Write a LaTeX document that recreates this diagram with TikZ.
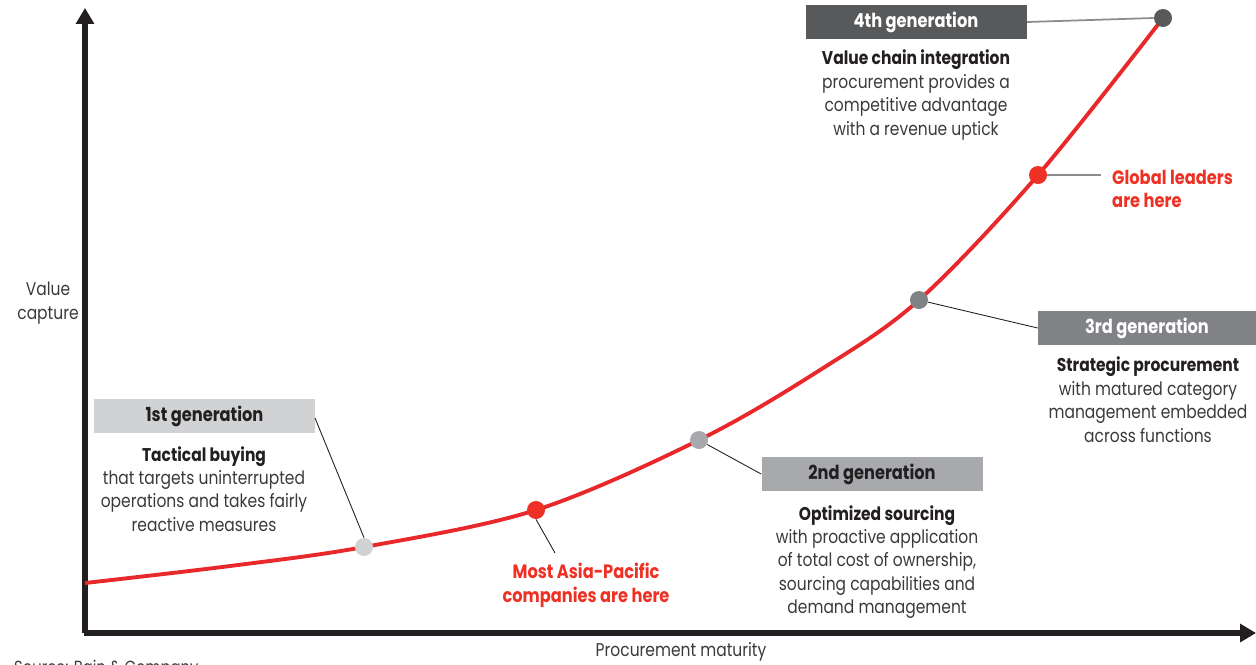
\documentclass[tikz,border=0pt]{standalone}
\usepackage{fontspec}
\setmainfont{Poppins}[FakeStretch=0.84]
\usetikzlibrary{arrows.meta}
\begin{document}
\definecolor{curvered}{HTML}{E8282B}
\definecolor{dotred}{HTML}{EE3124}
\definecolor{gen1}{HTML}{D1D2D4}
\definecolor{gen2}{HTML}{A7A9AC}
\definecolor{gen3}{HTML}{808285}
\definecolor{gen4}{HTML}{58595B}
\definecolor{ink}{HTML}{231F20}
\definecolor{body}{HTML}{3A3A3C}
\begin{tikzpicture}[x=0.02cm,y=-0.02cm,
  axis/.style={line width=3pt,draw=ink,-{Triangle[length=9pt,width=10pt]}},
  header/.style={minimum width=221*0.02cm,minimum height=34*0.02cm,inner sep=0pt,font=\fontsize{11}{13}\selectfont\bfseries},
  desc/.style={align=center,font=\fontsize{10.5}{13.3}\selectfont,text=body,anchor=north},
  dot/.style={circle,minimum size=18*0.02cm,inner sep=0pt},
  leader/.style={line width=0.5pt,draw=ink},
  greyleader/.style={line width=1pt,draw=gray!90},
  redtext/.style={font=\fontsize{11}{13.3}\selectfont\bfseries,text=dotred}]
\useasboundingbox (0,0) rectangle (1256,664);

% axes
\coordinate (origin) at (85,633);
\coordinate (ocorner) at (84,633);
\coordinate (ytop) at (85,8);
\coordinate (xend) at (1256,633);
\draw[axis] (origin) -- (ytop);
\draw[axis] (ocorner) -- (xend);
\node[font=\fontsize{10.5}{13.3}\selectfont,align=center,text=body] (ylab) at (48,303) {Value\\capture};
\node[font=\fontsize{10.5}{13.3}\selectfont,text=body] (xlab) at (681,652) {Procurement maturity};
\node[font=\fontsize{10}{12}\selectfont,text=body,anchor=north west] (src) at (8,654) {Source: Bain \& Company};

% maturity curve
\draw[curvered,line width=2.2pt] plot[smooth,tension=0.55] coordinates
  {(85,583) (230,566) (364,547) (536,510) (699,440) (820,370) (919,300) (1038,175) (1163,18)};

% markers on the curve
\node[dot,fill=gen1] (m1) at (364,547) {};
\node[dot,fill=dotred] (mA) at (536,510) {};
\node[dot,fill=gen2] (m2) at (699,440) {};
\node[dot,fill=gen3] (m3) at (919,300) {};
\node[dot,fill=dotred] (mG) at (1038,175) {};
\node[dot,fill=gen4] (m4) at (1163,18) {};

% generation headers
\node[header,fill=gen1,text=ink] (h1) at (204.5,416) {\raisebox{-1.5pt}{1st generation}};
\node[header,fill=gen2,text=ink] (h2) at (872,474) {\raisebox{-1.5pt}{2nd generation}};
\node[header,fill=gen3,text=white,minimum width=218*0.02cm] (h3) at (1147,328) {\raisebox{-1.5pt}{3rd generation}};
\node[header,fill=gen4,text=white] (h4) at (916,22) {\raisebox{-1.5pt}{4th generation}};

% descriptions
\node[desc] (d1) at (204,440) {{\color{ink}\bfseries Tactical buying}\\that targets uninterrupted\\operations and takes fairly\\reactive measures};
\node[desc] (d2) at (877,499) {{\color{ink}\bfseries Optimized sourcing}\\with proactive application\\of total cost of ownership,\\sourcing capabilities and\\demand management};
\node[desc] (d3) at (1148,351) {{\color{ink}\bfseries Strategic procurement}\\with matured category\\management embedded\\across functions};
\node[desc] (d4) at (916,44) {{\color{ink}\bfseries Value chain integration}\\procurement provides a\\competitive advantage\\with a revenue uptick};

% position call-outs
\node[redtext,align=center,anchor=north] (tA) at (586,557) {Most Asia-Pacific\\companies are here};
\node[redtext,align=left,anchor=west] (tG) at (1106,189) {Global leaders\\are here};

% leader lines
\coordinate (h1e) at (315,418);
\draw[leader] (h1e) -- (m1.north);
\coordinate (aEnd) at (555,553);
\draw[leader] (mA.south) -- (aEnd);
\draw[leader] (m2) -- (h2.west);
\draw[leader] (m3) -- (h3.west);
\coordinate (gEnd) at (1101,175);
\draw[greyleader] (mG.east) -- (gEnd);
\draw[greyleader] (h4.east) -- (m4.west);
\end{tikzpicture}
\end{document}
